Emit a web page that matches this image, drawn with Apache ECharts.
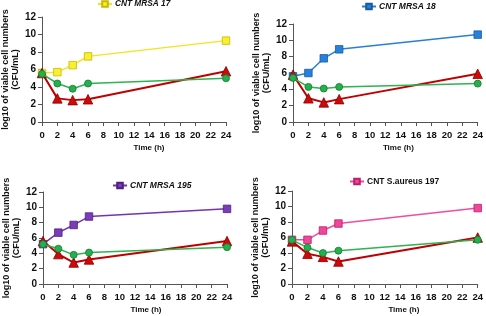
<!DOCTYPE html>
<html>
<head>
<meta charset="utf-8">
<script src="https://cdn.jsdelivr.net/npm/echarts@6/dist/echarts.min.js"></script>
<style>
html,body{margin:0;padding:0;background:#fff;}
#c{width:486px;height:316px;}
</style>
</head>
<body>
<div id="c"></div>
<script>
// Data
var hours = [0, 2, 4, 6, 24];
var yTicks = [0, 2, 4, 6, 8, 10, 12];
var xTicks = [0, 2, 4, 6, 8, 10, 12, 14, 16, 18, 20, 22, 24];

var strainNames = ['CNT MRSA 17', 'CNT MRSA 18', 'CNT MRSA 195', 'CNT S.aureus 197'];

var control17 = [5.6, 5.7, 6.5, 7.5, 9.3];
var green17 = [5.5, 4.4, 3.8, 4.4, 5.0];
var red17 = [5.6, 2.7, 2.5, 2.6, 5.8];

var control18 = [5.6, 6.0, 7.8, 8.9, 10.7];
var green18 = [5.4, 4.3, 4.1, 4.3, 4.7];
var red18 = [5.8, 2.9, 2.4, 2.8, 5.9];

var control195 = [5.2, 6.7, 7.7, 8.8, 9.8];
var green195 = [5.2, 4.6, 3.8, 4.1, 4.8];
var red195 = [5.6, 3.9, 2.8, 3.2, 5.6];

var control197 = [5.7, 5.7, 6.9, 7.8, 9.8];
var green197 = [5.7, 4.7, 4.0, 4.3, 5.7];
var red197 = [5.5, 3.9, 3.5, 2.9, 6.0];

var yAxisTitle = 'log10 of viable cell numbers\n(CFU/mL)';
var xAxisTitle = 'Time (h)';

// Styles / layout
var controlColors = [
  {line: '#f2e51a', fill: '#f7ef30', border: '#c9b800'},
  {line: '#2a7fd2', fill: '#2582dc', border: '#1a5a9e'},
  {line: '#7434b0', fill: '#7a3db8', border: '#4e1f80'},
  {line: '#f04d9d', fill: '#f0479c', border: '#b8206a'}
];
var greenStyle = {line: '#2eb351', fill: '#22b14c', border: '#157a32'};
var redStyle = {line: '#c00000', fill: '#cc0a0a', border: '#8a0000'};

var grids = [
  {left: 42, top: 17, width: 184, height: 105},
  {left: 293, top: 24, width: 185, height: 98},
  {left: 43, top: 192, width: 184, height: 92},
  {left: 292, top: 191, width: 187, height: 93}
];
var legendPos = [
  {left: 97, top: 0, italic: true, size: 8.3},
  {left: 361, top: 2, italic: true, size: 8.5},
  {left: 112, top: 181, italic: true, size: 8.5},
  {left: 349, top: 177, italic: false, size: 8.5}
];
var nameShift = [30, 26, 22, 38];
var yNameGap = [21, 21, 16, 19];

var panels = [
  [control17, green17, red17],
  [control18, green18, red18],
  [control195, green195, red195],
  [control197, green197, red197]
];

function pairs(arr) {
  return hours.map(function (h, i) { return [h, arr[i]]; });
}

var font = 'Liberation Sans, Arial, sans-serif';
var option = {
  animation: false,
  backgroundColor: '#fff',
  grid: [], xAxis: [], yAxis: [], series: [], legend: []
};

panels.forEach(function (p, i) {
  option.grid.push({left: grids[i].left, top: grids[i].top, width: grids[i].width, height: grids[i].height, containLabel: false});
  option.xAxis.push({
    gridIndex: i, type: 'value', min: xTicks[0], max: xTicks[xTicks.length - 1], interval: 2,
    name: xAxisTitle, nameLocation: 'middle', nameGap: 22,
    nameTextStyle: {fontFamily: font, fontWeight: 'bold', fontSize: 8, color: '#111', padding: [0, 0, 0, nameShift[i]]},
    axisLine: {lineStyle: {color: '#555', width: 1}},
    axisTick: {show: true, length: 4, lineStyle: {color: '#555'}},
    axisLabel: {fontFamily: font, fontWeight: 'bold', fontSize: 9.5, color: '#111', margin: 8},
    splitLine: {show: false}
  });
  option.yAxis.push({
    gridIndex: i, type: 'value', min: yTicks[0], max: yTicks[yTicks.length - 1], interval: 2,
    name: yAxisTitle, nameLocation: 'middle', nameGap: yNameGap[i],
    nameTextStyle: {fontFamily: font, fontWeight: 'bold', fontSize: 9, color: '#111', lineHeight: 10},
    axisLine: {show: true, lineStyle: {color: '#555', width: 1}},
    axisTick: {show: true, length: 4, lineStyle: {color: '#555'}},
    axisLabel: {fontFamily: font, fontWeight: 'bold', fontSize: 10, color: '#111', margin: 6},
    splitLine: {show: false}
  });
  var cc = controlColors[i];
  option.series.push({
    name: strainNames[i], type: 'line', xAxisIndex: i, yAxisIndex: i,
    data: pairs(p[0]), symbol: 'rect', symbolSize: 7.5,
    lineStyle: {color: cc.line, width: 1.5},
    itemStyle: {color: cc.fill, borderColor: cc.border, borderWidth: 0.8},
    z: 2
  });
  option.series.push({
    name: 'red' + i, type: 'line', xAxisIndex: i, yAxisIndex: i,
    data: pairs(p[2]), symbol: 'triangle', symbolSize: 9.5,
    lineStyle: {color: redStyle.line, width: 2},
    itemStyle: {color: redStyle.fill, borderColor: redStyle.border, borderWidth: 0.8},
    z: 3
  });
  option.series.push({
    name: 'green' + i, type: 'line', xAxisIndex: i, yAxisIndex: i,
    data: pairs(p[1]), symbol: 'circle', symbolSize: 7,
    lineStyle: {color: greenStyle.line, width: 1.5},
    itemStyle: {color: greenStyle.fill, borderColor: greenStyle.border, borderWidth: 0.8},
    z: 4
  });
  option.legend.push({
    data: [strainNames[i]], left: legendPos[i].left, top: legendPos[i].top,
    padding: 0, itemWidth: 14, itemHeight: 7, itemGap: 4,
    selectedMode: false,
    textStyle: {fontFamily: font, fontWeight: 'bold', fontStyle: legendPos[i].italic ? 'italic' : 'normal',
      fontSize: legendPos[i].size, color: '#111', padding: [0, 0, 0, -2]}
  });
});

var chart = echarts.init(document.getElementById('c'), null, {renderer: 'canvas'});
chart.setOption(option);
</script>
</body>
</html>
